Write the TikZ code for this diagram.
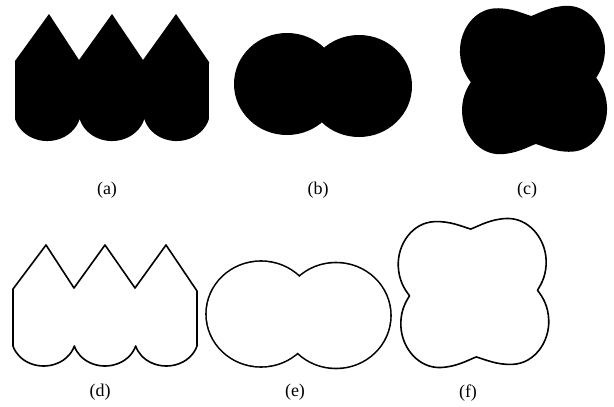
\documentclass[tikz,border=0pt]{standalone}
\usepackage{fontspec}
\setmainfont{Liberation Serif}
\newcommand\cloverpath{(0,64)
 .. controls (9,67) and (20,73) .. (36,73)
 .. controls (58,73) and (74,52) .. (74,30)
 .. controls (74,16) and (69,7) .. (64,0)
 .. controls (69,-7) and (74,-16) .. (74,-30)
 .. controls (74,-52) and (58,-73) .. (36,-73)
 .. controls (20,-73) and (9,-67) .. (0,-64)
 .. controls (-9,-67) and (-20,-73) .. (-36,-73)
 .. controls (-58,-73) and (-74,-52) .. (-74,-30)
 .. controls (-74,-16) and (-69,-7) .. (-64,0)
 .. controls (-69,7) and (-74,16) .. (-74,30)
 .. controls (-74,52) and (-58,73) .. (-36,73)
 .. controls (-20,73) and (-9,67) .. (0,64) -- cycle}
\begin{document}
\begin{tikzpicture}[x=1pt,y=1pt,
  lab/.style={font=\fontsize{18}{20}\selectfont, inner sep=0pt},
  outl/.style={line width=1.6pt, line join=round}]
\useasboundingbox (0,0) rectangle (614,-407);

% (a) filled zigzag shape
\fill (15,-61) -- (15,-118.9)
  arc[start angle=195.2,end angle=344.8,x radius=33.5,y radius=30]
  arc[start angle=195.2,end angle=344.8,x radius=33.5,y radius=30]
  arc[start angle=195.2,end angle=344.8,x radius=33.5,y radius=30]
  -- (209,-62) -- (176,-14) -- (143,-60) -- (112,-14) -- (79,-60) -- (49,-14) -- cycle;

% (b) two filled discs
\fill (287,-84) ellipse [x radius=53, y radius=51];
\fill (359,-86) ellipse [x radius=53, y radius=51];

% (c) filled four-lobed shape
\begin{scope}[shift={(533.5,-80)}, rotate=2, xscale=0.98]
  \fill \cloverpath;
\end{scope}

% (d) outline zigzag shape
\draw[outl] (13,-289) -- (13,-346)
  arc[start angle=196.6,end angle=343.4,x radius=32,y radius=28]
  arc[start angle=196.6,end angle=343.4,x radius=32,y radius=28]
  arc[start angle=196.6,end angle=343.4,x radius=32,y radius=28]
  -- (197,-291) -- (166,-245) -- (135,-288) -- (105,-245) -- (74,-288) -- (46,-245) -- cycle;

% (e) outline of two discs
\draw[line width=3.2pt] (261,-314) ellipse [x radius=54.2, y radius=52.2]
                        (336,-315.5) ellipse [x radius=54.2, y radius=52.2];
\fill[white] (261,-314) ellipse [x radius=54.2, y radius=52.2]
             (336,-315.5) ellipse [x radius=54.2, y radius=52.2];

% (f) outline four-lobed shape
\begin{scope}[shift={(473.5,-293)}, rotate=2.5]
  \draw[outl] \cloverpath;
\end{scope}

% labels
\node[lab] (la) at (107,-190) {(a)};
\node[lab] (lb) at (318,-190) {(b)};
\node[lab] (lc) at (527,-190) {(c)};
\node[lab] (ld) at (100,-392) {(d)};
\node[lab] (le) at (295,-392) {(e)};
\node[lab] (lf) at (468,-393) {(f)};
\end{tikzpicture}
\end{document}
